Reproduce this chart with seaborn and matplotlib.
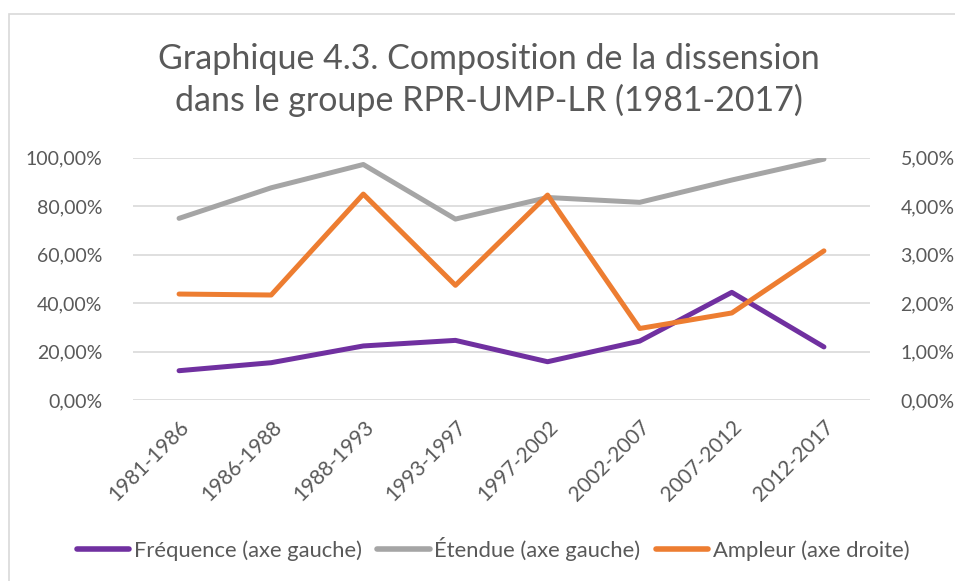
import pandas as pd
import matplotlib.pyplot as plt
import seaborn as sns
from matplotlib.lines import Line2D
from matplotlib.patches import Rectangle
from matplotlib.ticker import FuncFormatter

# -----------------------------
# Data
# -----------------------------
periodes = ["1981-1986", "1986-1988", "1988-1993", "1993-1997",
            "1997-2002", "2002-2007", "2007-2012", "2012-2017"]

frequence = [12.2, 15.5, 22.4, 24.7, 15.9, 24.4, 44.5, 22.0]   # axe gauche (%)
etendue = [75.0, 87.6, 97.2, 74.7, 83.6, 81.6, 90.8, 99.4]     # axe gauche (%)
ampleur = [2.19, 2.17, 4.25, 2.37, 4.23, 1.48, 1.80, 3.08]     # axe droite (%)

left_ticks = [0, 20, 40, 60, 80, 100]
right_ticks = [0, 1, 2, 3, 4, 5]

noms = ["Fréquence (axe gauche)", "Étendue (axe gauche)", "Ampleur (axe droite)"]
couleurs = ["#7030A0", "#A5A5A5", "#ED7D31"]

titre = "Graphique 4.3. Composition de la dissension\ndans le groupe RPR-UMP-LR (1981-2017)"

df = pd.DataFrame({
    "periode": periodes * 2,
    "valeur": frequence + etendue,
    "serie": [noms[0]] * len(periodes) + [noms[1]] * len(periodes),
})

# -----------------------------
# Style
# -----------------------------
sns.set_theme(style="white")
plt.rcParams["font.family"] = ["Lato", "DejaVu Sans"]
txt = "#595959"
grid = "#D9D9D9"

fig = plt.figure(figsize=(9.55, 5.81), dpi=100)
fig.patches.append(Rectangle((9 / 955, -0.1), 1.2, 1 - 14 / 581 + 0.1,
                             transform=fig.transFigure, fill=False,
                             edgecolor=grid, linewidth=1.2))

ax = fig.add_axes([133 / 955, 1 - 400.3 / 581, 737 / 955, 242.6 / 581])

sns.lineplot(data=df, x="periode", y="valeur", hue="serie",
             palette=couleurs[:2], linewidth=3.6, ax=ax, legend=False, sort=False)

ax2 = ax.twinx()
sns.lineplot(x=periodes, y=ampleur, color=couleurs[2], linewidth=3.6,
             ax=ax2, sort=False)

pct = FuncFormatter(lambda v, p: f"{v:.2f}%".replace(".", ","))

ax.set_xlim(-0.5, len(periodes) - 0.5)
ax.set_ylim(0, 100)
ax.set_yticks(left_ticks)
ax.yaxis.set_major_formatter(pct)
ax2.set_ylim(0, 5)
ax2.set_yticks(right_ticks)
ax2.yaxis.set_major_formatter(pct)

ax.yaxis.grid(True, color=grid, linewidth=1.2)
ax.set_axisbelow(True)
ax.set_xlabel("")
ax.set_ylabel("")
ax2.set_ylabel("")

for a in (ax, ax2):
    for s in a.spines.values():
        s.set_visible(False)
    a.tick_params(length=0, labelsize=14, colors=txt)
ax.tick_params(axis="y", pad=22)
ax2.tick_params(axis="y", pad=22)
ax.tick_params(axis="x", pad=12)

ax.set_xticks(range(len(periodes)))
ax.set_xticklabels(periodes, rotation=45, ha="right", rotation_mode="anchor",
                   fontsize=15, color=txt)

fig.text(489 / 955, 1 - 80 / 581, titre, ha="center", va="center",
         fontsize=24.5, color=txt, linespacing=1.3)

handles = [Line2D([0], [0], color=c, linewidth=4, solid_capstyle="round")
           for c in couleurs]
fig.legend(handles, noms, loc="center", bbox_to_anchor=(493 / 955, 1 - 549 / 581),
           ncol=3, frameon=False, fontsize=15.8, labelcolor=txt,
           handlelength=2.4, handletextpad=0.2, columnspacing=0.7)

plt.savefig("out.png", dpi=100)
